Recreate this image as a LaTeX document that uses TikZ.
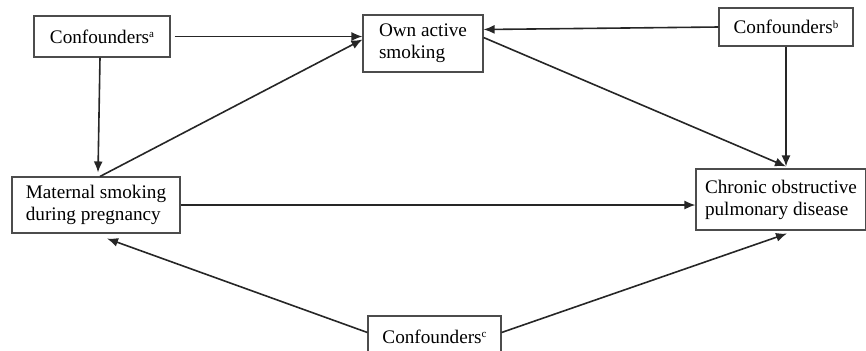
\documentclass[tikz,border=0pt]{standalone}
\usepackage{fontspec}
\setmainfont{Liberation Serif}
\usetikzlibrary{arrows.meta}
\newcommand{\confmark}[1]{\raisebox{2.8pt}{\fontsize{5.5}{6}\selectfont #1}}

\begin{document}
\begin{tikzpicture}[->,>={Latex[length=5.5pt,width=4.5pt]},x=0.5pt,y=-0.5pt,line width=0.8pt,draw=black!85]
                \tikzset{box/.style={draw=black!70, line width=0.55pt, rectangle, align=left, inner sep=1pt, font=\fontsize{9.6}{11}\selectfont}}
                \useasboundingbox (0,0) rectangle (866,350);
                \node[box, minimum width=68pt, minimum height=20.5pt] (ca) at (102,36.5) {Confounders\confmark{a}};
                \node[box, minimum width=60pt, minimum height=28.5pt] (own) at (423,43.5) {Own active\\smoking};
                \node[box, minimum width=67pt, minimum height=19pt] (cb) at (786,27) {Confounders\confmark{b}};
                \node[box, minimum width=84pt, minimum height=28pt] (mat) at (96,205) {Maternal smoking\\during pregnancy};
                \node[box, minimum width=85pt, minimum height=30.5pt] (copd) at (781,199.5) {Chronic obstructive\\pulmonary disease};
                \node[box, minimum width=66.5pt, minimum height=20.5pt] (cc) at (434.5,336.5) {Confounders\confmark{c}};
                \path ([xshift=2pt]ca.east) edge              node {} (ca.east -| own.west);
                \path (cb.west) edge              node {} ([yshift=7pt]own.east);
                \path ([xshift=-1pt]ca.south) edge              node {} ([xshift=1pt,yshift=2pt]mat.north);
                \path ([xshift=2pt]mat.north) edge              node {} ([yshift=2pt]own.west);
                \path ([yshift=3pt]own.east) edge              node {} ([yshift=1pt]cb.south |- copd.north);
                \path (cb.south) edge              node {} ([yshift=1pt]cb.south |- copd.north);
                \path (mat.east) edge              node {} (mat.east -| copd.west);
                \path ([yshift=2pt]cc.west) edge              node {} ([xshift=5.5pt,yshift=-2.5pt]mat.south);
                \path ([yshift=2pt]cc.east) edge              node {} ([xshift=3pt,yshift=-1.5pt]copd.south);
\end{tikzpicture}
\end{document}
